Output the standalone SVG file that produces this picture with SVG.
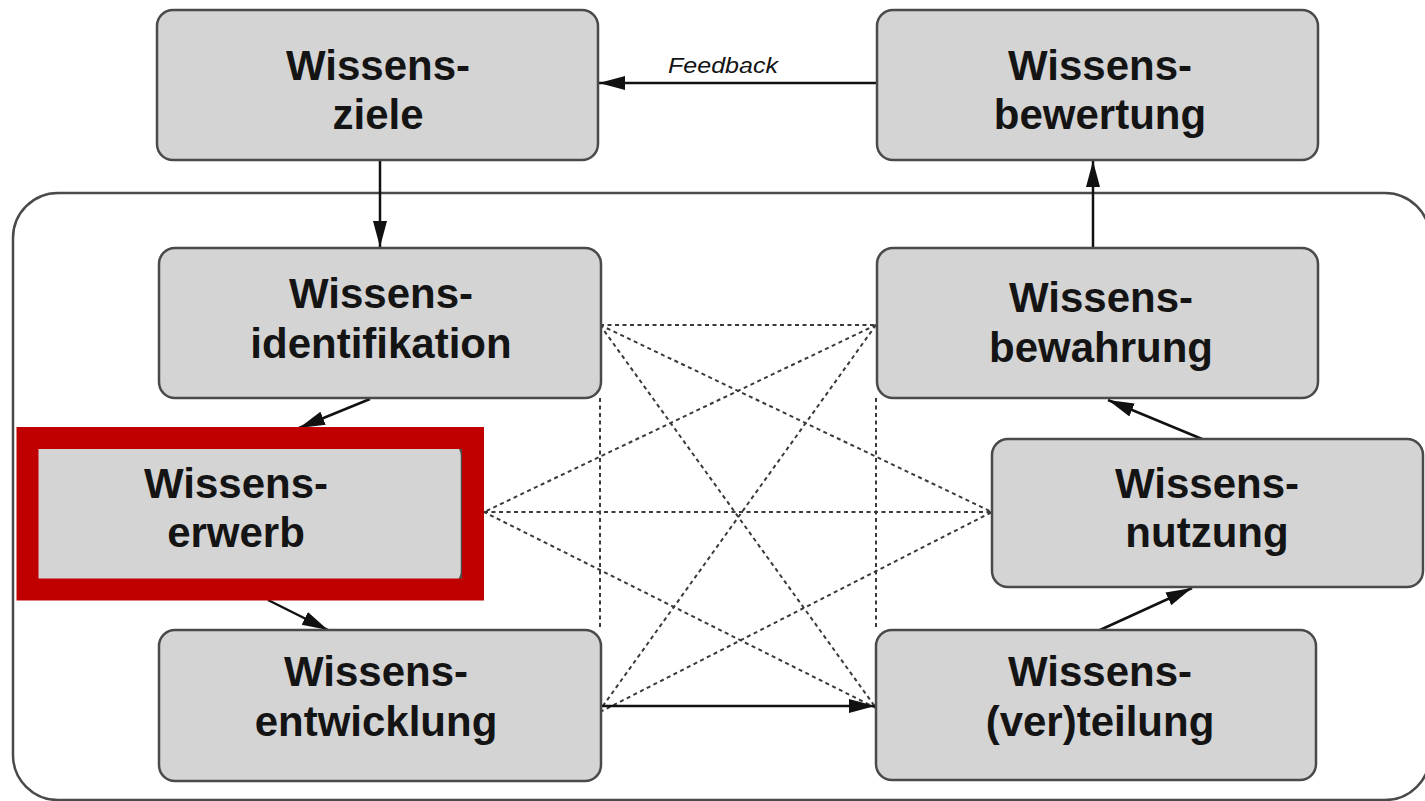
<svg xmlns="http://www.w3.org/2000/svg" width="1425" height="801" viewBox="0 0 1425 801">
<style>
.box{fill:#d4d4d4;stroke:#4a4a4a;stroke-width:2.5}
.lbl{font-family:"Liberation Sans",Arial,sans-serif;font-weight:bold;font-size:42px;fill:#141414;text-anchor:middle}
.arr{stroke:#111;stroke-width:2.5;fill:none;marker-end:url(#ah)}
.dot{stroke:#3a3a3a;stroke-width:2;stroke-dasharray:4 3.5;fill:none}
</style>
<defs>
<marker id="ah" markerUnits="userSpaceOnUse" markerWidth="28" markerHeight="16" refX="26" refY="7" orient="auto">
<path d="M0,0 L26,7 L0,14 Z" fill="#111"/>
</marker>
</defs>
<rect width="1425" height="801" fill="#fff"/>
<g id="container">
<rect x="13" y="193" width="1417" height="607" rx="45" fill="none" stroke="#4a4a4a" stroke-width="2.5"/>
</g>
<g id="connectors">
<line class="dot" x1="600" y1="325" x2="876" y2="325"/>
<line class="dot" x1="600" y1="398" x2="600" y2="630"/>
<line class="dot" x1="876" y1="398" x2="876" y2="630"/>
<line class="dot" x1="484" y1="512" x2="992" y2="512"/>
<line class="dot" x1="600" y1="325" x2="876" y2="708"/>
<line class="dot" x1="876" y1="325" x2="600" y2="710"/>
<line class="dot" x1="600" y1="325" x2="992" y2="512"/>
<line class="dot" x1="876" y1="325" x2="484" y2="512"/>
<line class="dot" x1="600" y1="712" x2="992" y2="512"/>
<line class="dot" x1="876" y1="708" x2="484" y2="512"/>
<line class="arr" x1="877" y1="83" x2="599" y2="83"/>
<line class="arr" x1="380" y1="160" x2="380" y2="247"/>
<line class="arr" x1="1093" y1="248" x2="1093" y2="161"/>
<line class="arr" x1="370" y1="399" x2="299" y2="428"/>
<line class="arr" x1="268" y1="600" x2="328" y2="630"/>
<line class="arr" x1="600" y1="706" x2="875" y2="706"/>
<line class="arr" x1="1100" y1="630" x2="1192" y2="588"/>
<line class="arr" x1="1202" y1="439" x2="1108" y2="400"/>
<text x="723" y="73" font-family="&quot;Liberation Sans&quot;,Arial,sans-serif" font-style="italic" font-size="22" fill="#141414" text-anchor="middle" textLength="110" lengthAdjust="spacingAndGlyphs">Feedback</text>
</g>
<g id="ziele">
<rect class="box" x="157" y="10" width="441" height="150" rx="16"/>
<text class="lbl" x="378" y="80">Wissens-</text>
<text class="lbl" x="378" y="129">ziele</text>
</g>
<g id="bewertung">
<rect class="box" x="877" y="10" width="441" height="150" rx="16"/>
<text class="lbl" x="1100" y="80">Wissens-</text>
<text class="lbl" x="1100" y="129">bewertung</text>
</g>
<g id="identifikation">
<rect class="box" x="159" y="248" width="442" height="150" rx="16"/>
<text class="lbl" x="381" y="308">Wissens-</text>
<text class="lbl" x="381" y="358">identifikation</text>
</g>
<g id="bewahrung">
<rect class="box" x="877" y="248" width="441" height="150" rx="16"/>
<text class="lbl" x="1101" y="312">Wissens-</text>
<text class="lbl" x="1101" y="362">bewahrung</text>
</g>
<g id="erwerb">
<rect class="box" x="22" y="440" width="440" height="147" rx="16"/>
<rect x="27.5" y="438" width="445.5" height="151.5" fill="none" stroke="#c00000" stroke-width="22"/>
<text class="lbl" x="236" y="498">Wissens-</text>
<text class="lbl" x="236" y="547">erwerb</text>
</g>
<g id="nutzung">
<rect class="box" x="992" y="439" width="431" height="148" rx="16"/>
<text class="lbl" x="1207" y="498">Wissens-</text>
<text class="lbl" x="1207" y="547">nutzung</text>
</g>
<g id="entwicklung">
<rect class="box" x="159" y="630" width="442" height="151" rx="16"/>
<text class="lbl" x="376" y="686">Wissens-</text>
<text class="lbl" x="376" y="736">entwicklung</text>
</g>
<g id="verteilung">
<rect class="box" x="876" y="630" width="440" height="150" rx="16"/>
<text class="lbl" x="1100" y="686">Wissens-</text>
<text class="lbl" x="1100" y="736">(ver)teilung</text>
</g>
</svg>
